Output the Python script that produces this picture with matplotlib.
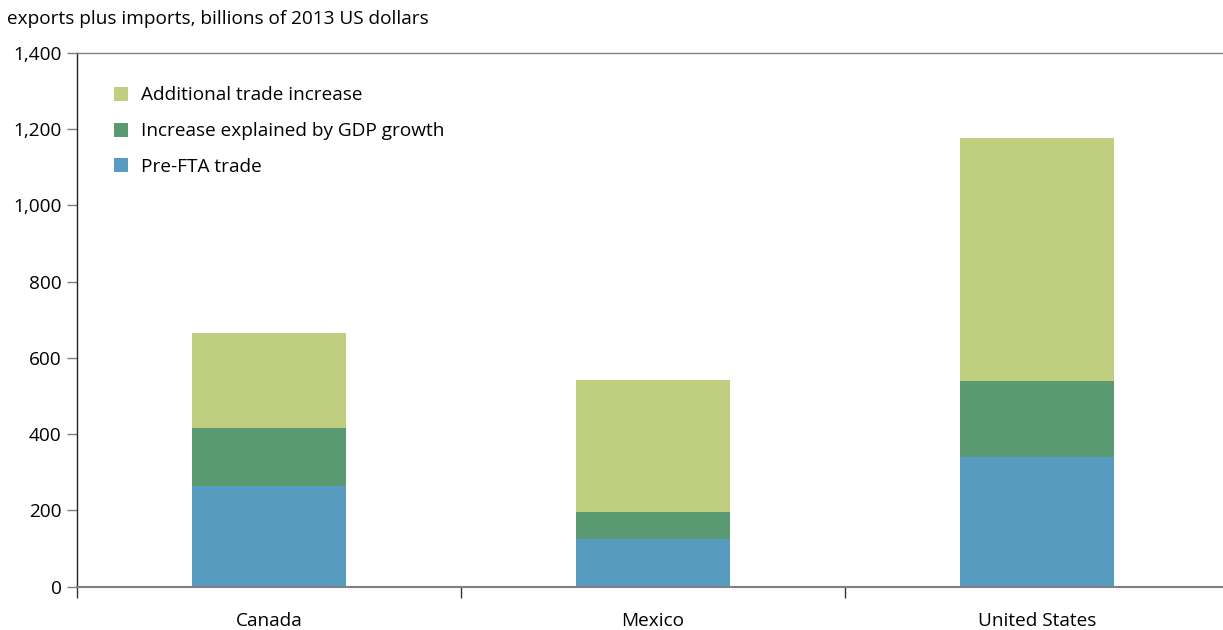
import matplotlib
matplotlib.use("Agg")
import matplotlib.pyplot as plt
from matplotlib.patches import Patch
import numpy as np

categories = ["Canada", "Mexico", "United States"]
pre_fta = [263, 124, 339]
gdp_growth = [154, 72, 201]
additional = [249, 345, 636]
series_labels = ["Additional trade increase", "Increase explained by GDP growth", "Pre-FTA trade"]
yticks = [0, 200, 400, 600, 800, 1000, 1200, 1400]
title = "exports plus imports, billions of 2013 US dollars"

c_blue = "#579bc0"
c_green = "#5a9a73"
c_light = "#c0ce80"

plt.rcParams['font.family'] = ['Open Sans', 'DejaVu Sans']
FS = 13.7

W, H = 1223, 630
fig = plt.figure(figsize=(W/100, H/100), dpi=100)
left, right, bottom, top = 77, 1229, 586.5, 53
ax = fig.add_axes([left/W, (H-bottom)/H, (right-left)/W, (bottom-top)/H])

x = np.arange(len(categories))
pre = np.array(pre_fta); gdp = np.array(gdp_growth); add = np.array(additional)
ax.bar(x, pre, width=0.4, color=c_blue, linewidth=0)
ax.bar(x, gdp, bottom=pre, width=0.4, color=c_green, linewidth=0)
ax.bar(x, add, bottom=pre+gdp, width=0.4, color=c_light, linewidth=0)

ax.set_xlim(-0.5, 2.5)
ax.set_ylim(0, 1400)
ax.set_yticks(yticks)
ax.set_yticklabels([f"{v:,}" for v in yticks], fontsize=FS)
ax.set_xticks(x)
ax.set_xticklabels(categories, fontsize=FS)
ax.set_xticks([-0.5, 0.5, 1.5, 2.5], minor=True)
ax.tick_params(axis='x', which='major', length=0, pad=18)
ax.tick_params(axis='x', which='minor', length=8, width=1, color='#333333', direction='out')
ax.tick_params(axis='y', length=7, width=1, color='#808080', direction='out', pad=4)

ax.spines['right'].set_visible(False)
ax.spines['left'].set_color('#222222')
ax.spines['left'].set_linewidth(1)
ax.spines['bottom'].set_color('#808080')
ax.spines['bottom'].set_linewidth(1.5)
ax.spines['top'].set_color('#808080')
ax.spines['top'].set_linewidth(1)

handles = [Patch(facecolor=c, edgecolor='none') for c in [c_light, c_green, c_blue]]
ax.legend(handles, series_labels, loc='upper left', frameon=False, fontsize=FS,
          bbox_to_anchor=((114-left)/(right-left), 1-(86.5-top)/(bottom-top)),
          borderaxespad=0, borderpad=0, handlelength=0.75, handleheight=0.75,
          handletextpad=0.65, labelspacing=0.93)

fig.text(7/W, 1-19/H, title, fontsize=FS, va='center', ha='left')

fig.savefig("out.png", dpi=100)
